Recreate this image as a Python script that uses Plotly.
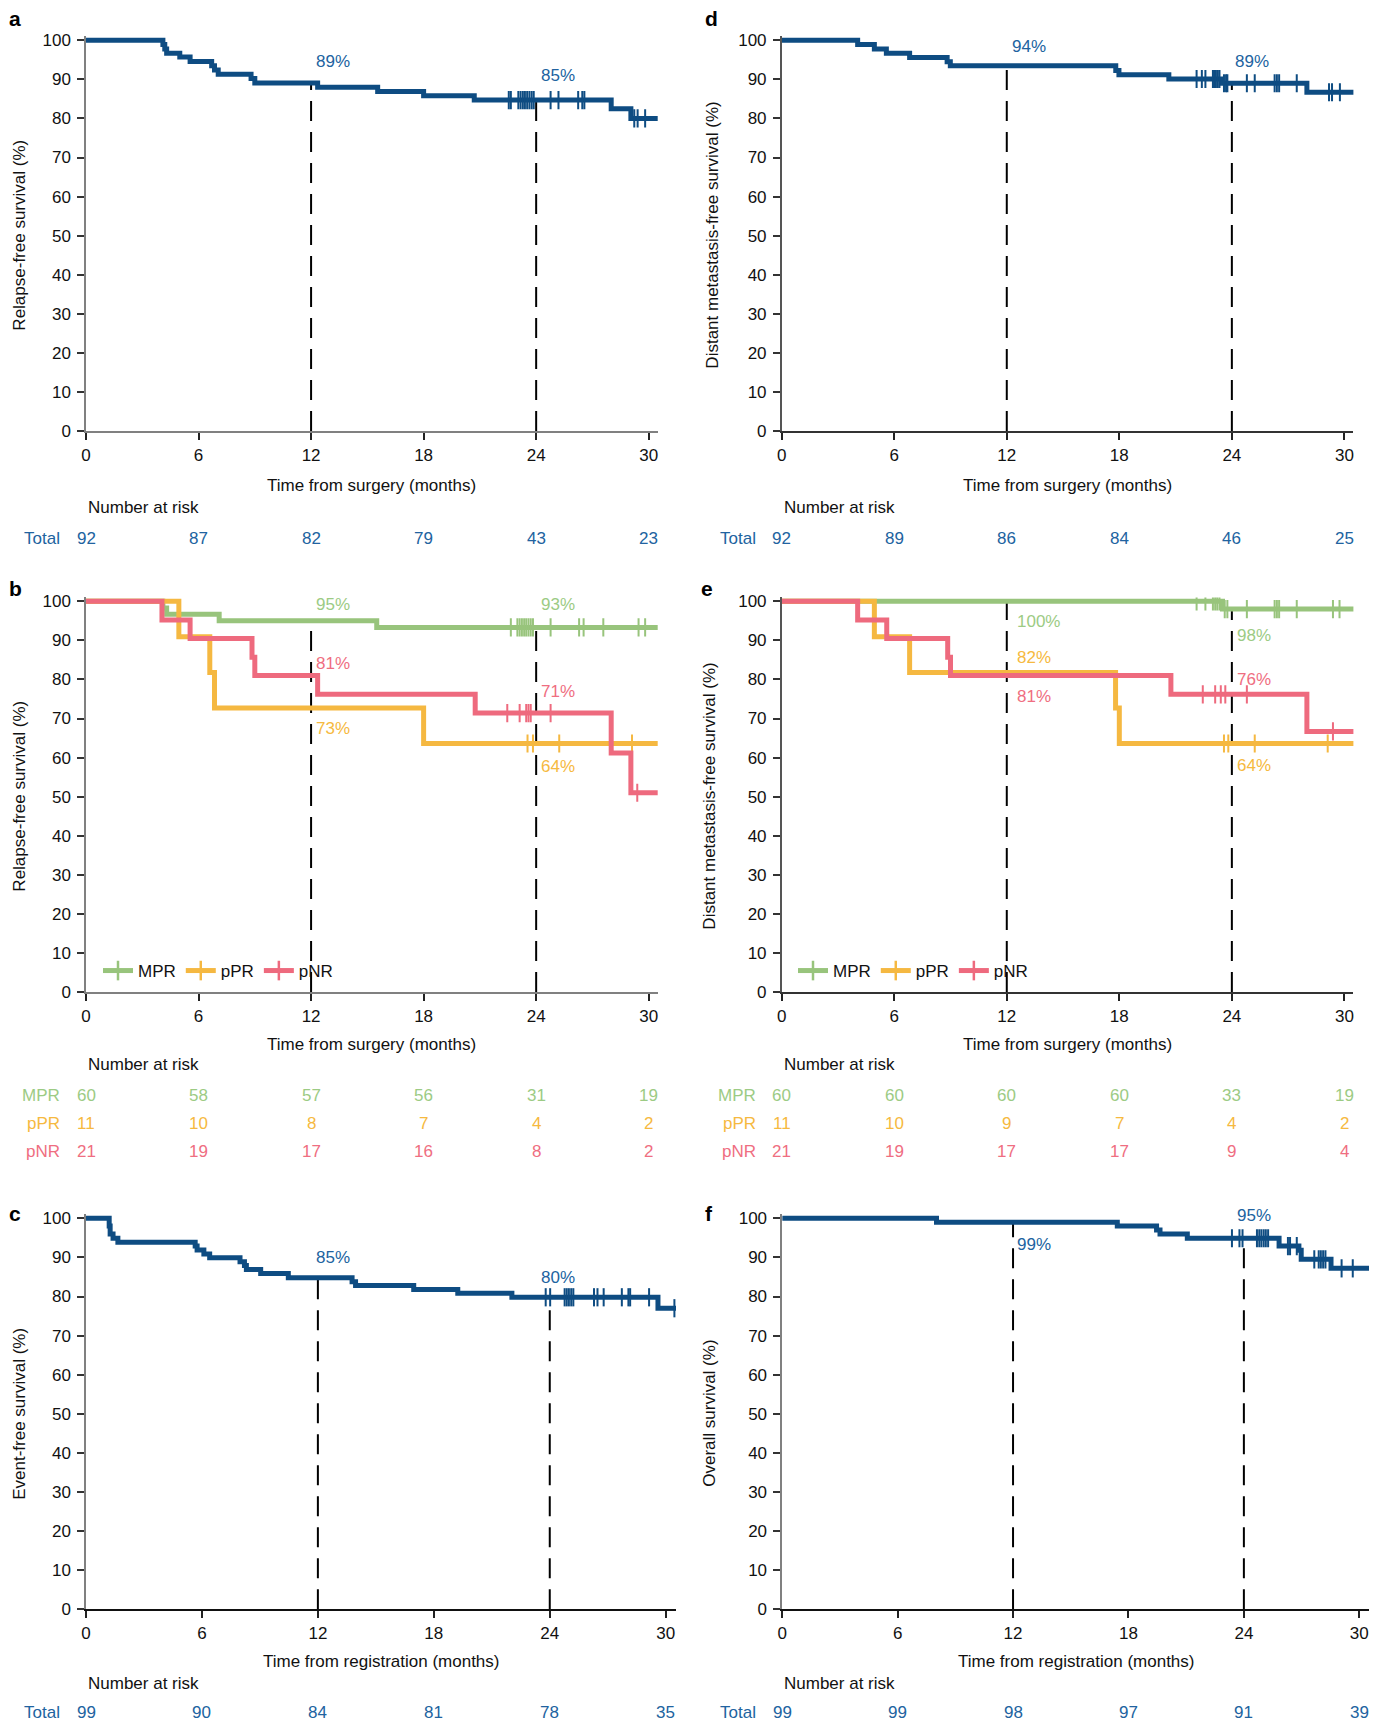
import numpy as np
import plotly.graph_objects as go

W, H = 1382, 1722
FONT = "Liberation Sans, Arial, Helvetica, sans-serif"

# ------------------------------------------------------------------ data
month_ticks = [0, 6, 12, 18, 24, 30]
pct_ticks = [0, 10, 20, 30, 40, 50, 60, 70, 80, 90, 100]
followup_end = 31.0

# a: relapse-free survival, all patients
a_times = [0, 4.1, 4.2, 4.3, 5.0, 5.55, 6.7, 6.85, 7.05, 8.8, 9.0, 12.35, 15.55, 18.0, 20.7, 28.0, 29.05]
a_surv = [100, 98.9, 97.8, 96.7, 95.7, 94.6, 93.5, 92.4, 91.3, 90.2, 89.1, 88.0, 86.9, 85.8, 84.7, 82.5, 80.0]
a_cens = [22.54, 22.65, 23.05, 23.17, 23.29, 23.40, 23.52, 23.64, 23.76, 23.87, 24.77, 25.19,
          26.24, 26.46, 26.57, 29.23, 29.41, 29.81]
a_risk = [92, 87, 82, 79, 43, 23]
a_labels = ["89%", "85%"]

# d: distant metastasis-free survival, all patients
d_times = [0, 4.05, 4.94, 5.58, 6.82, 8.82, 8.99, 17.81, 17.98, 20.64, 23.46, 28.0]
d_surv = [100, 98.9, 97.8, 96.7, 95.6, 94.5, 93.5, 92.3, 91.2, 90.1, 89.0, 86.7]
d_cens = [22.12, 22.40, 22.59, 22.99, 23.06, 23.15, 23.25, 23.34, 23.58, 23.69, 23.76, 24.80,
          25.22, 26.28, 26.40, 26.52, 27.46, 29.18, 29.34, 29.76]
d_risk = [92, 89, 86, 84, 46, 25]
d_labels = ["94%", "89%"]

# b: relapse-free survival by pathological response
b_mpr_times = [0, 4.1, 4.3, 7.1, 15.5]
b_mpr_surv = [100, 98.3, 96.7, 95.0, 93.3]
b_mpr_cens = [22.65, 23.0, 23.12, 23.24, 23.36, 23.47, 23.59, 23.71, 23.83, 24.77, 26.29, 26.53,
              27.58, 29.46, 29.81]
b_ppr_times = [0, 4.95, 6.6, 6.85, 18.0]
b_ppr_surv = [100, 90.9, 81.8, 72.7, 63.6]
b_ppr_cens = [23.54, 23.83, 25.23, 29.11]
b_pnr_times = [0, 4.05, 5.55, 8.85, 9.0, 12.35, 20.75, 28.0, 29.05]
b_pnr_surv = [100, 95.2, 90.5, 85.7, 81.0, 76.2, 71.4, 61.2, 51.0]
b_pnr_cens = [22.46, 23.12, 23.47, 23.59, 23.71, 24.77, 29.39]
b_risk_mpr = [60, 58, 57, 56, 31, 19]
b_risk_ppr = [11, 10, 8, 7, 4, 2]
b_risk_pnr = [21, 19, 17, 16, 8, 2]
b_labels_mpr = ["95%", "93%"]
b_labels_ppr = ["73%", "64%"]
b_labels_pnr = ["81%", "71%"]

# e: distant metastasis-free survival by pathological response
e_mpr_times = [0, 23.5]
e_mpr_surv = [100, 98.0]
e_mpr_cens = [22.12, 22.59, 22.99, 23.11, 23.22, 23.34, 23.62, 23.76, 24.80, 26.28, 26.40, 26.52,
              27.46, 29.39, 29.74]
e_ppr_times = [0, 4.94, 6.82, 17.8, 18.0]
e_ppr_surv = [100, 90.9, 81.8, 72.7, 63.6]
e_ppr_cens = [23.58, 23.81, 25.22, 29.11]
e_pnr_times = [0, 4.05, 5.6, 8.85, 9.0, 20.75, 28.0]
e_pnr_surv = [100, 95.2, 90.5, 85.7, 81.0, 76.2, 66.7]
e_pnr_cens = [22.45, 23.11, 23.41, 23.65, 24.80, 29.39]
e_risk_mpr = [60, 60, 60, 60, 33, 19]
e_risk_ppr = [11, 10, 9, 7, 4, 2]
e_risk_pnr = [21, 19, 17, 17, 9, 4]
e_labels_mpr = ["100%", "98%"]
e_labels_ppr = ["82%", "64%"]
e_labels_pnr = ["81%", "76%"]

# c: event-free survival
c_times = [0, 1.2, 1.25, 1.4, 1.65, 5.65, 5.75, 6.1, 6.4, 7.97, 8.2, 8.3, 9.04, 10.47, 13.77,
           13.95, 16.96, 19.24, 22.04, 29.6]
c_surv = [100, 98.0, 96.0, 94.9, 93.9, 92.9, 91.9, 90.9, 89.9, 88.9, 87.9, 86.9, 85.9, 84.8, 83.8,
          82.8, 81.8, 80.8, 79.8, 77.0]
c_cens = [23.79, 24.02, 24.77, 24.88, 24.99, 25.11, 25.22, 26.29, 26.47, 26.79, 27.73, 28.07,
          28.16, 29.14, 30.45]
c_risk = [99, 90, 84, 81, 78, 35]
c_labels = ["85%", "80%"]

# f: overall survival
f_times = [0, 8.02, 17.42, 19.46, 19.64, 21.06, 25.83, 26.86, 26.98, 28.53]
f_surv = [100, 99.0, 98.0, 97.0, 96.0, 94.9, 92.9, 91.8, 89.5, 87.2]
f_cens = [23.38, 23.77, 23.93, 24.68, 24.80, 24.91, 25.03, 25.14, 25.26, 26.29, 26.40, 26.75,
          27.66, 27.89, 28.00, 28.12, 28.24, 29.08, 29.66]
f_risk = [99, 99, 98, 97, 91, 39]
f_labels = ["99%", "95%"]

landmarks = [12, 24]

# ------------------------------------------------------------------ style
BLUE = "#0e4c82"
BLUE_T = "#2163a0"
GREEN = "#98c47c"
GREEN_T = "#9ccb84"
ORANGE = "#f5b841"
ORANGE_T = "#f6b940"
PINK = "#ee6a7e"
PINK_T = "#ef6e81"

LW = 5

# pixel geometry of each panel (x of 0, x of 30, end of axis line, y of 0, y of 100)
geom = {
    "a": dict(ax="", x0=86, x30=648.7, xend=657.7, y0=431.0, y100=40.3,
              xline="#808080", xlw=2, yline="#808080", ylw=1.5),
    "d": dict(ax="2", x0=781.7, x30=1344.4, xend=1353.4, y0=431.0, y100=40.3,
              xline="#333333", xlw=1.5, yline="#555555", ylw=1.5),
    "b": dict(ax="3", x0=86, x30=648.7, xend=657.7, y0=992.0, y100=601.3,
              xline="#808080", xlw=2, yline="#808080", ylw=1.5),
    "e": dict(ax="4", x0=781.7, x30=1344.4, xend=1353.4, y0=992.0, y100=601.3,
              xline="#333333", xlw=1.5, yline="#555555", ylw=1.5),
    "c": dict(ax="5", x0=86, x30=665.7, xend=676.0, y0=1609.3, y100=1218.3,
              xline="#111111", xlw=1.5, yline="#808080", ylw=1.5),
    "f": dict(ax="6", x0=782.2, x30=1359.3, xend=1369.0, y0=1609.3, y100=1218.3,
              xline="#111111", xlw=1.5, yline="#808080", ylw=1.5),
}

fig = go.Figure()
layout = dict(
    autosize=True, margin=dict(l=0, r=0, t=0, b=0, pad=0, autoexpand=False),
    paper_bgcolor="white", plot_bgcolor="white",
    font=dict(family=FONT, size=17, color="#111111"),
    showlegend=True,
)
annotations = []


def px(x):
    return x / W


def py(y):
    return 1 - y / H


def step_at(times, surv, t):
    idx = np.searchsorted(np.asarray(times), np.asarray(t), side="right") - 1
    return np.asarray(surv)[idx]


# axes
for key, g in geom.items():
    ax = g["ax"]
    xmax = 30 * (g["xend"] - g["x0"]) / (g["x30"] - g["x0"])
    yscale = (g["y0"] - g["y100"]) / 100.0
    ytop = g["y0"] - 101 * yscale
    layout["xaxis" + ax] = dict(
        domain=[px(g["x0"]), px(g["xend"])], range=[0, xmax], anchor="y" + ax, automargin=False,
        tickmode="array", tickvals=month_ticks, ticks="outside", ticklen=7, tickwidth=1.5,
        tickcolor="#222222", showline=True, linecolor=g["xline"], linewidth=g["xlw"],
        showgrid=False, zeroline=False, tickfont=dict(size=17, color="#111111"),
        fixedrange=True, ticklabelstandoff=1,
    )
    layout["yaxis" + ax] = dict(
        domain=[py(g["y0"]), py(ytop)], range=[0, 101], anchor="x" + ax, automargin=False,
        tickmode="array", tickvals=pct_ticks, ticks="outside", ticklen=7, tickwidth=1.5,
        tickcolor="#333333", showline=True, linecolor=g["yline"], linewidth=g["ylw"],
        showgrid=False, zeroline=False, tickfont=dict(size=17, color="#111111"),
        fixedrange=True, ticklabelstandoff=3,
    )


def add_curve(key, times, surv, cens, color, name=None, legend=None):
    ax = geom[key]["ax"]
    xs = list(times) + [followup_end]
    ys = list(surv) + [surv[-1]]
    fig.add_trace(go.Scatter(
        x=xs, y=ys, mode="lines", line=dict(color=color, width=LW, shape="hv"),
        xaxis="x" + ax, yaxis="y" + ax, showlegend=False, hoverinfo="skip",
    ))
    cy = step_at(times, surv, cens)
    fig.add_trace(go.Scatter(
        x=cens, y=cy, mode="markers",
        marker=dict(symbol="line-ns", size=13, color=color, line=dict(color=color, width=2)),
        xaxis="x" + ax, yaxis="y" + ax, showlegend=False, hoverinfo="skip",
    ))
    if name is not None:
        fig.add_trace(go.Scatter(
            x=[None], y=[None], mode="lines+markers", name=name,
            line=dict(color=color, width=LW),
            marker=dict(symbol="line-ns", size=14, color=color, line=dict(color=color, width=2.5)),
            xaxis="x" + ax, yaxis="y" + ax, showlegend=True, legend=legend,
        ))


def add_landmarks(key, curves):
    ax = geom[key]["ax"]
    for t in landmarks:
        top = max(float(step_at(tt, ss, t)) for tt, ss in curves)
        fig.add_trace(go.Scatter(
            x=[t, t], y=[0, top], mode="lines",
            line=dict(color="black", width=2, dash="20px,11px"),
            xaxis="x" + ax, yaxis="y" + ax, showlegend=False, hoverinfo="skip",
        ))


def pct_label(key, text, x, y, color):
    ax = geom[key]["ax"]
    annotations.append(dict(
        text=text, x=x, y=y, xref="x" + ax, yref="y" + ax, showarrow=False,
        xanchor="center", yanchor="middle", font=dict(size=17, color=color),
    ))


def titles(key, ytitle, xtitle, ytitle_x, xtitle_y, nar_y):
    g = geom[key]
    annotations.append(dict(
        text=ytitle, x=px(ytitle_x), y=py((g["y0"] + g["y100"]) / 2), xref="paper", yref="paper",
        showarrow=False, textangle=-90, xanchor="center", yanchor="middle",
        font=dict(size=17, color="#111111"),
    ))
    annotations.append(dict(
        text=xtitle, x=px((g["x0"] + g["xend"]) / 2), y=py(xtitle_y), xref="paper", yref="paper",
        showarrow=False, xanchor="center", yanchor="middle", font=dict(size=17, color="#111111"),
    ))
    annotations.append(dict(
        text="Number at risk", x=px(g["x0"]), y=py(nar_y), xref="paper", yref="paper",
        showarrow=False, xanchor="left", yanchor="middle", font=dict(size=17, color="#111111"),
    ))


def risk_row(key, label, values, row_y, color):
    g = geom[key]
    ax = g["ax"]
    annotations.append(dict(
        text=label, x=px(g["x0"] - 24), y=py(row_y), xref="paper", yref="paper",
        showarrow=False, xanchor="right", yanchor="middle", font=dict(size=17, color=color),
    ))
    for t, v in zip(month_ticks, values):
        annotations.append(dict(
            text=str(v), x=t, y=py(row_y), xref="x" + ax, yref="paper",
            showarrow=False, xanchor="center", yanchor="middle", font=dict(size=17, color=color),
        ))


def panel_letter(letter, x, y):
    annotations.append(dict(
        text="<b>%s</b>" % letter, x=px(x), y=py(y), xref="paper", yref="paper",
        showarrow=False, xanchor="center", yanchor="middle",
        font=dict(size=21, color="black", family=FONT),
    ))


# ---- panel a
add_landmarks("a", [(a_times, a_surv)])
add_curve("a", a_times, a_surv, a_cens, BLUE)
pct_label("a", a_labels[0], 13.15, 94.5, BLUE_T)
pct_label("a", a_labels[1], 25.19, 91.0, BLUE_T)
titles("a", "Relapse-free survival (%)", "Time from surgery (months)", 20, 485.7, 507.8)
risk_row("a", "Total", a_risk, 538.6, BLUE_T)
panel_letter("a", 15, 18)

# ---- panel d
add_landmarks("d", [(d_times, d_surv)])
add_curve("d", d_times, d_surv, d_cens, BLUE)
pct_label("d", d_labels[0], 13.18, 98.4, BLUE_T)
pct_label("d", d_labels[1], 25.1, 94.5, BLUE_T)
titles("d", "Distant metastasis-free survival (%)", "Time from surgery (months)", 713, 485.7, 507.8)
risk_row("d", "Total", d_risk, 538.6, BLUE_T)
panel_letter("d", 711, 18)

# ---- panel b
add_landmarks("b", [(b_mpr_times, b_mpr_surv), (b_ppr_times, b_ppr_surv), (b_pnr_times, b_pnr_surv)])
add_curve("b", b_mpr_times, b_mpr_surv, b_mpr_cens, GREEN, "MPR", "legend")
add_curve("b", b_ppr_times, b_ppr_surv, b_ppr_cens, ORANGE, "pPR", "legend")
add_curve("b", b_pnr_times, b_pnr_surv, b_pnr_cens, PINK, "pNR", "legend")
pct_label("b", b_labels_mpr[0], 13.19, 99.1, GREEN_T)
pct_label("b", b_labels_mpr[1], 25.19, 99.1, GREEN_T)
pct_label("b", b_labels_pnr[0], 13.19, 84.1, PINK_T)
pct_label("b", b_labels_pnr[1], 25.19, 76.8, PINK_T)
pct_label("b", b_labels_ppr[0], 13.19, 67.5, ORANGE_T)
pct_label("b", b_labels_ppr[1], 25.19, 57.7, ORANGE_T)
titles("b", "Relapse-free survival (%)", "Time from surgery (months)", 20, 1044.3, 1064.6)
risk_row("b", "MPR", b_risk_mpr, 1095.2, GREEN_T)
risk_row("b", "pPR", b_risk_ppr, 1123.8, ORANGE_T)
risk_row("b", "pNR", b_risk_pnr, 1151.7, PINK_T)
panel_letter("b", 15, 588)

# ---- panel e
add_landmarks("e", [(e_mpr_times, e_mpr_surv), (e_ppr_times, e_ppr_surv), (e_pnr_times, e_pnr_surv)])
add_curve("e", e_mpr_times, e_mpr_surv, e_mpr_cens, GREEN, "MPR", "legend2")
add_curve("e", e_ppr_times, e_ppr_surv, e_ppr_cens, ORANGE, "pPR", "legend2")
add_curve("e", e_pnr_times, e_pnr_surv, e_pnr_cens, PINK, "pNR", "legend2")
pct_label("e", e_labels_mpr[0], 13.69, 94.9, GREEN_T)
pct_label("e", e_labels_mpr[1], 25.18, 91.2, GREEN_T)
pct_label("e", e_labels_ppr[0], 13.46, 85.5, ORANGE_T)
pct_label("e", e_labels_pnr[0], 13.46, 75.7, PINK_T)
pct_label("e", e_labels_pnr[1], 25.18, 79.9, PINK_T)
pct_label("e", e_labels_ppr[1], 25.18, 57.9, ORANGE_T)
titles("e", "Distant metastasis-free survival (%)", "Time from surgery (months)", 710, 1044.3, 1064.6)
risk_row("e", "MPR", e_risk_mpr, 1095.2, GREEN_T)
risk_row("e", "pPR", e_risk_ppr, 1123.8, ORANGE_T)
risk_row("e", "pNR", e_risk_pnr, 1151.7, PINK_T)
panel_letter("e", 707, 588)

# ---- panel c
add_landmarks("c", [(c_times, c_surv)])
add_curve("c", c_times, c_surv, c_cens, BLUE)
pct_label("c", c_labels[0], 12.79, 90.0, BLUE_T)
pct_label("c", c_labels[1], 24.43, 84.9, BLUE_T)
titles("c", "Event-free survival (%)", "Time from registration (months)", 20, 1661, 1683)
risk_row("c", "Total", c_risk, 1712.5, BLUE_T)
panel_letter("c", 15, 1213)

# ---- panel f
add_landmarks("f", [(f_times, f_surv)])
add_curve("f", f_times, f_surv, f_cens, BLUE)
pct_label("f", f_labels[0], 13.11, 93.2, BLUE_T)
pct_label("f", f_labels[1], 24.52, 100.6, BLUE_T)
titles("f", "Overall survival (%)", "Time from registration (months)", 710, 1661, 1683)
risk_row("f", "Total", f_risk, 1712.5, BLUE_T)
panel_letter("f", 709, 1213)

leg_common = dict(orientation="h", xanchor="left", yanchor="middle", bgcolor="rgba(0,0,0,0)",
                  font=dict(size=17, color="#111111", family=FONT), itemwidth=30,
                  tracegroupgap=0, traceorder="normal")
layout["legend"] = dict(x=px(98), y=py(971), **leg_common)
layout["legend2"] = dict(x=px(793), y=py(971), **leg_common)
layout["annotations"] = annotations

fig.update_layout(**layout)

# the plot div is pinned to the top-left corner of the window at exactly W x H pixels
fig.write_html(
    "out.html",
    config={"displayModeBar": False},
    default_width="%dpx; position:fixed; left:0px; top:0px; margin:0px" % W,
    default_height="%dpx" % H,
)
